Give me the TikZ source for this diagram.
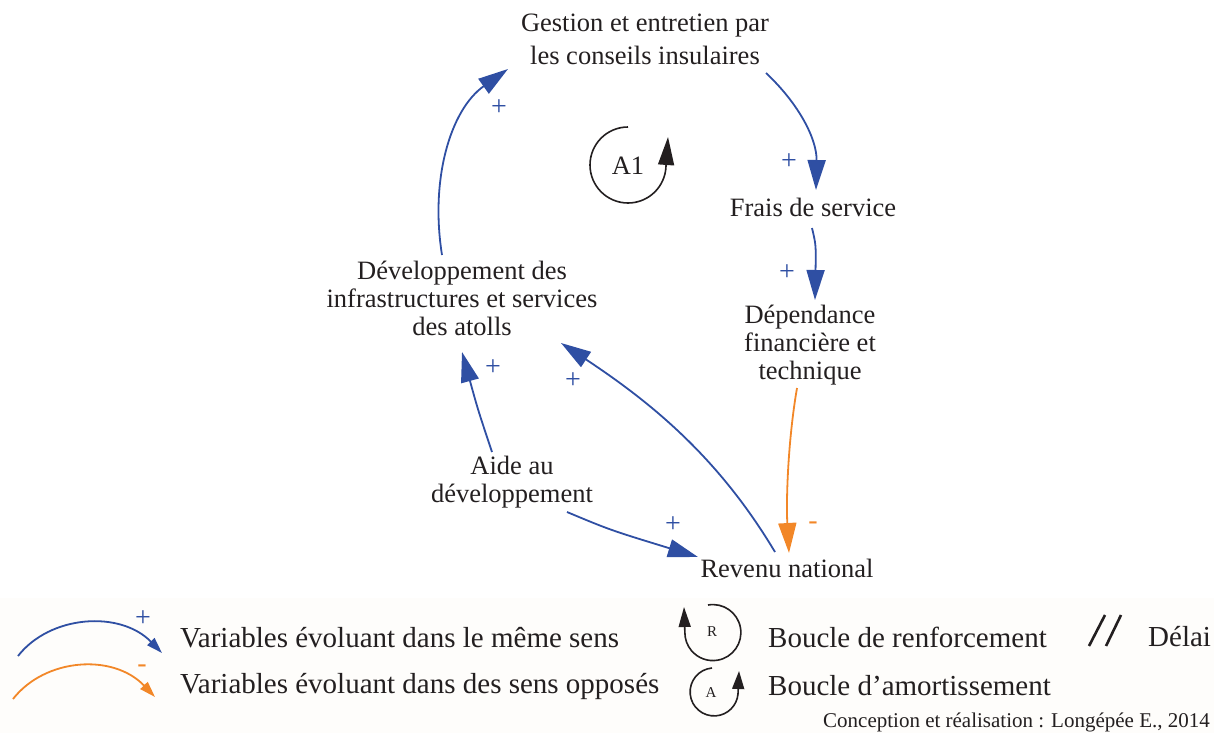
\documentclass[tikz,border=0pt]{standalone}
\usepackage{fontspec}
\setmainfont{Liberation Serif}
\usetikzlibrary{arrows.meta}
\definecolor{cblue}{RGB}{47,79,163}
\definecolor{corange}{RGB}{242,135,40}
\definecolor{ctext}{RGB}{35,31,32}
\definecolor{legbg}{RGB}{254,253,251}
\tikzset{
  var/.style={align=center,inner sep=0pt,text=ctext,font=\fontsize{26.5}{28}\selectfont},
  posarrow/.style={draw=cblue,line width=1.8pt,-{Triangle[length=30pt,width=18pt]}},
  negarrow/.style={draw=corange,line width=1.8pt,-{Triangle[length=30pt,width=18pt]}},
  plbl/.style={text=cblue,inner sep=0pt,font=\fontsize{28}{28}\selectfont},
  mlbl/.style={text=corange,inner sep=0pt,font=\fontsize{28}{28}\selectfont},
  legtext/.style={anchor=west,inner sep=0pt,text=ctext,font=\fontsize{29}{30}\selectfont},
  loopline/.style={draw=ctext,line width=1.6pt}
}
\begin{document}
\begin{tikzpicture}[x=1pt,y=-1pt]
\useasboundingbox (0,0) rectangle (1214,733);
\fill[legbg] (0,598) rectangle (1214,733);

% variables
\node[var] (gest) at (645,39) {Gestion et entretien par\\[5pt]les conseils insulaires};
\node[var] (frais) at (813,207) {Frais de service};
\node[var] (dep) at (810,345) {Dépendance\\financière et\\technique};
\node[var] (dev) at (462,298) {Développement des\\infrastructures et services\\des atolls};
\node[var] (aide) at (512,482) {Aide au\\développement};
\node[var] (rev) at (787,568) {Revenu national};

% connectors
\draw[posarrow] ([shift={(-20,-43)}]dev.center) .. controls (430,180) and (450,110) .. ([shift={(-137,30)}]gest.center);
\draw[posarrow] ([shift={(121,34)}]gest.center) .. controls (800,105) and (817,140) .. ([shift={(3,-17)}]frais.center);
\draw[posarrow] ([shift={(-1,21)}]frais.center) .. controls (816,245) .. ([shift={(5,-45)}]dep.center);
\draw[negarrow] ([shift={(-13,43)}]dep.center) .. controls (788,440) and (786,500) .. ([shift={(2,-15)}]rev.center);
\draw[posarrow] ([shift={(-20,-30)}]aide.center) .. controls (478,410) .. ([shift={(0,54)}]dev.center);
\draw[posarrow] ([shift={(-12,-16)}]rev.center) .. controls (720,460) and (655,405) .. ([shift={(99,45)}]dev.center);
\draw[posarrow] ([shift={(55,30)}]aide.center) .. controls (610,530) .. ([shift={(-89,-11)}]rev.center);

% polarity labels
\node[plbl] (p1) at (499,108) {+};
\node[plbl] (p2) at (789,162) {+};
\node[plbl] (p3) at (787,273) {+};
\node[plbl] (p4) at (493,368) {+};
\node[plbl] (p5) at (573,381) {+};
\node[plbl] (p6) at (673,525) {+};
\node[mlbl] (m1) at (813,526) {-};

% loop A1
\node[var] (a1) at (628,166) {A1};
\draw[loopline,-{Triangle[length=28pt,width=16pt]}] (628,127) arc[start angle=90,end angle=358,radius=38pt] -- (668,137);

% legend
\draw[draw=cblue,line width=1.8pt,-{Triangle[length=16pt,width=10pt]}] (18,656) .. controls (50,615) and (120,610) .. (162,653);
\node[text=cblue,inner sep=0pt,font=\fontsize{28}{28}\selectfont] (lp) at (143,619) {+};
\draw[draw=corange,line width=1.8pt,-{Triangle[length=16pt,width=10pt]}] (13,699) .. controls (45,658) and (113,653) .. (155,697);
\node[text=corange,inner sep=0pt,font=\fontsize{28}{28}\selectfont] (lm) at (142,669) {-};
\node[legtext] (l1) at (180,638) {Variables évoluant dans le même sens};
\node[legtext] (l2) at (180,686) {Variables évoluant dans des sens opposés};

\draw[loopline,-{Triangle[length=20pt,width=12pt]}] (708,605) arc[start angle=100,end angle=-180,radius=28pt] -- (684,607);
\node[inner sep=0pt,text=ctext,font=\fontsize{15}{15}\selectfont] (lr) at (712,632) {R};
\draw[loopline,-{Triangle[length=18pt,width=12pt]}] (712,668) arc[start angle=95,end angle=355,radius=24pt] -- (739,671);
\node[inner sep=0pt,text=ctext,font=\fontsize{15}{15}\selectfont] (la) at (711,693) {A};
\node[legtext] (l3) at (768,637) {Boucle de renforcement};
\node[legtext] (l4) at (768,686) {Boucle d’amortissement};
\draw[draw=ctext,line width=2.6pt] (1105,615) -- (1089,646);
\draw[draw=ctext,line width=2.6pt] (1121,615) -- (1106,646);
\node[legtext] (l5) at (1148,637) {Délai};
\node[anchor=east,inner sep=0pt,text=ctext,font=\fontsize{21}{22}\selectfont] (cap) at (1210,722) {Conception et réalisation : Longépée E., 2014};
\end{tikzpicture}
\end{document}
